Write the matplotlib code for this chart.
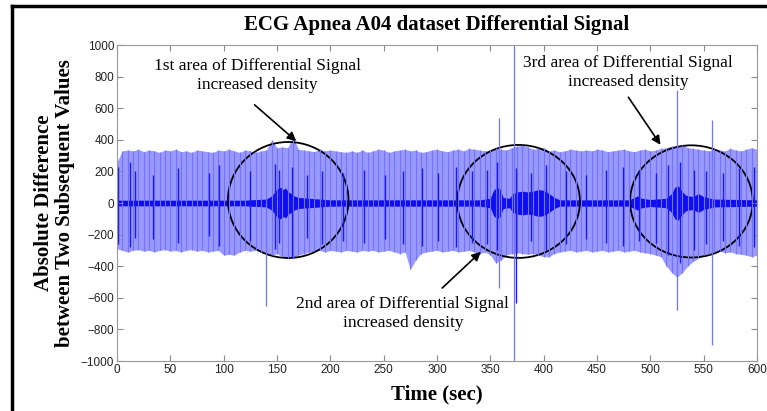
import numpy as np
import matplotlib.pyplot as plt
from matplotlib.patches import Ellipse
from matplotlib.lines import Line2D

# envelope of the beat spikes, read every 5 sec
env_t = list(range(0, 601, 5))
env_hi = [260, 330, 335, 330, 340, 325, 335, 330, 320, 335, 330, 340, 325, 330, 320, 335,
          330, 325, 320, 335, 330, 340, 330, 320, 335, 330, 320, 330, 335, 400, 350, 355,
          350, 420, 340, 335, 330, 325, 340, 330, 335, 330, 325, 320, 330, 320, 335, 320,
          330, 340, 335, 320, 330, 335, 340, 330, 335, 320, 325, 335, 340, 330, 325, 335,
          340, 330, 345, 340, 335, 330, 335, 345, 340, 335, 350, 360, 365, 355, 340, 345,
          350, 330, 335, 325, 330, 340, 335, 330, 335, 330, 340, 335, 325, 330, 335, 340,
          330, 325, 335, 340, 330, 335, 345, 350, 360, 355, 370, 350, 345, 340, 335, 330,
          340, 335, 330, 345, 335, 330, 340, 350, 340]
env_lo = [-290, -300, -310, -300, -295, -305, -300, -310, -300, -295, -305, -300, -310, -300, -295, -305,
          -300, -310, -305, -300, -330, -325, -330, -310, -300, -305, -300, -310, -320, -330, -320, -340,
          -350, -345, -330, -320, -310, -305, -300, -310, -300, -305, -310, -300, -305, -310, -300, -305,
          -300, -310, -305, -300, -310, -320, -310, -420, -360, -320, -310, -305, -300, -310, -305, -300,
          -310, -305, -300, -310, -320, -310, -330, -380, -360, -330, -320, -315, -320, -325, -320, -330,
          -340, -340, -320, -310, -305, -300, -310, -305, -300, -310, -305, -300, -310, -305, -300, -310,
          -305, -300, -310, -315, -320, -330, -340, -400, -440, -470, -440, -400, -370, -350, -330, -320,
          -310, -305, -315, -310, -320, -325, -330, -340, -330]

# darker single beats
dark_t = [1, 12, 17, 34, 57, 86, 96, 125, 148, 152, 164, 178, 192, 212, 232, 251, 268, 286, 301,
          318, 333, 347, 356, 374, 388, 402, 421, 440, 458, 474, 489, 505, 517, 528, 541, 552,
          568, 583, 597]
dark_hi = [230, 260, 200, 180, 220, 190, 240, 200, 250, 210, 230, 180, 200, 190, 210, 180, 200, 220,
           190, 230, 200, 210, 260, 220, 190, 240, 200, 180, 210, 230, 200, 190, 240, 260, 210,
           200, 190, 220, 230]
dark_lo = [-260, -280, -220, -230, -250, -210, -270, -240, -290, -250, -350, -220, -260, -240, -250,
           -230, -260, -270, -240, -280, -250, -260, -300, -630, -240, -300, -260, -230, -250,
           -270, -240, -250, -330, -380, -300, -260, -240, -270, -280]

# isolated large spikes
spike_t = [140, 358, 372.5, 525, 558]
spike_hi = [0, 540, 1000, 715, 525]
spike_lo = [-655, -540, -1000, -680, -900]

# amplitude of the dense part around zero
dense_t = [0, 120, 140, 145, 148, 150, 153, 156, 158, 160, 163, 166, 170, 180, 200, 340, 350,
           353, 356, 359, 362, 368, 371, 375, 380, 385, 390, 395, 400, 405, 410, 415, 480,
           485, 488, 492, 500, 515, 520, 523, 526, 529, 533, 540, 545, 550, 560, 600]
dense_amp = [18, 18, 25, 45, 70, 90, 100, 85, 95, 75, 60, 45, 35, 30, 20, 20, 30,
             80, 100, 90, 35, 30, 60, 70, 75, 70, 75, 85, 80, 60, 35, 20, 20,
             35, 45, 30, 22, 30, 60, 100, 110, 80, 50, 40, 60, 40, 25, 20]

fig = plt.figure(figsize=(7.67, 4.11), dpi=100)
ax = fig.add_axes([117 / 767, 50 / 411, 640 / 767, 316 / 411])

light = (0.6, 0.6, 1.0)
ax.fill_between(env_t, env_lo, env_hi, color=light, lw=0)
ax.vlines(env_t, env_lo, env_hi, color=(0.45, 0.45, 1.0), lw=0.8)
ax.vlines(spike_t, spike_lo, spike_hi, color=(0.45, 0.45, 1.0), lw=0.9)
ax.vlines(dark_t, dark_lo, dark_hi, color=(0.1, 0.1, 0.95), lw=1.0)
dense_amp = np.array(dense_amp)
ax.fill_between(dense_t, -dense_amp, dense_amp, color=(0.05, 0.05, 0.95), lw=0)

ax.set_xlim(0, 600)
ax.set_ylim(-1000, 1000)
ax.set_xticks(range(0, 601, 50))
ax.set_yticks(range(-1000, 1001, 200))
ax.tick_params(direction='in', top=True, right=True, length=4, color='#888888',
               labelsize=8.5, pad=2, labelcolor='#222222')
for lab in ax.get_xticklabels() + ax.get_yticklabels():
    lab.set_family('Liberation Sans')
for s in ax.spines.values():
    s.set_color('#999999')

# circled areas
for c, w, h in [((160.5, 19), 113, 734), ((376.5, 10), 115, 715), ((538.5, 10), 115, 710)]:
    ax.add_patch(Ellipse(c, w, h, fill=False, ec='black', lw=1.3))

serif = 'Liberation Serif'
notes = [("1st area of Differential Signal\nincreased density", (132, 810), (127, 633), (170, 380)),
         ("2nd area of Differential Signal\nincreased density", (268, -700), (303, -550), (343, -297)),
         ("3rd area of Differential Signal\nincreased density", (479, 823), (478, 684), (511, 354))]
for txt, pos, tail, head in notes:
    ax.text(pos[0], pos[1], txt, ha='center', va='center', fontsize=12.5,
            family=serif, linespacing=1.25)
    ax.annotate('', xy=head, xytext=tail,
                arrowprops=dict(arrowstyle='-|>', color='black', lw=1.2, mutation_scale=13))

ax.set_title('ECG Apnea A04 dataset Differential Signal', family=serif,
             fontweight='bold', fontsize=15, pad=11)
ax.set_xlabel('Time (sec)', family=serif, fontweight='bold', fontsize=15, labelpad=6)
ax.set_ylabel('Absolute Difference\nbetween Two Subsequent Values', family=serif,
              fontweight='bold', fontsize=15, labelpad=4, linespacing=1.1)

# frame of the original figure
fig.add_artist(Line2D([12 / 767, 12 / 767], [0, 1 - 6 / 411], color='black', lw=2.5))
fig.add_artist(Line2D([12 / 767, 1], [1 - 6 / 411, 1 - 6 / 411], color='black', lw=2.5))

fig.savefig('out.png', dpi=100)
